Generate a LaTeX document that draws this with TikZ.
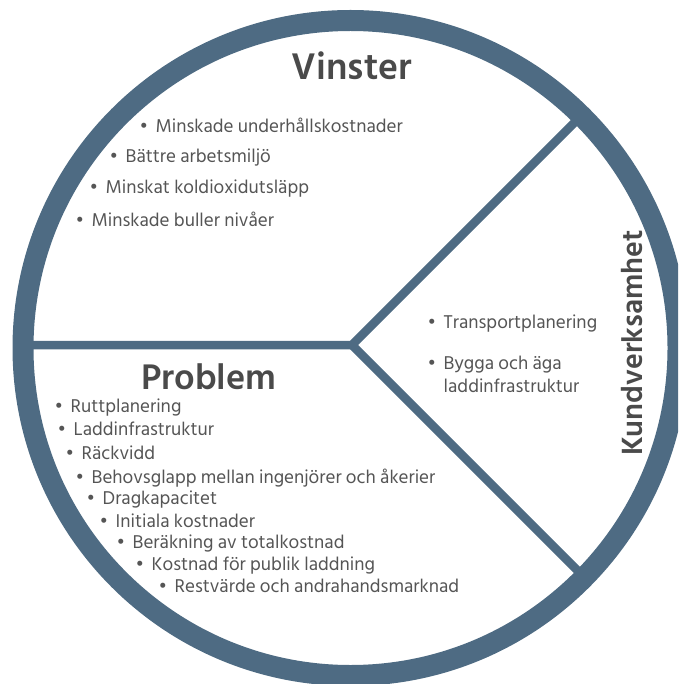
\documentclass[tikz,border=0pt]{standalone}
\usepackage{fontspec}
\setmainfont{Hind Siliguri}
\definecolor{ring}{HTML}{4E6B83}
\definecolor{txt}{HTML}{555555}
\definecolor{ttl}{HTML}{4A4A4A}
\tikzset{
  item/.style={anchor=mid west, inner sep=0pt, text=txt, font=\fontsize{19}{22}\selectfont},
  ttlnode/.style={inner sep=0pt, text=ttl, font=\fontsize{38}{40}\selectfont\bfseries},
  spoke/.style={draw=ring, line width=8.5pt},
  rim/.style={draw=ring, line width=21pt}
}
\newcommand{\bul}[1]{\makebox[12.5pt][l]{\hspace{-3.5pt}\textbullet}#1}
\begin{document}
\begin{tikzpicture}[x=1pt,y=-1pt]
\useasboundingbox (0,0) rectangle (678,684);
\begin{scope}
\clip (0,0) rectangle (678,684);
\coordinate (c) at (350.5,348);
\coordinate (j) at (352,345);
\coordinate (w) at (20,345);
\coordinate (ne) at (587,110);
\coordinate (se) at (587,580);
\draw[spoke] (w) -- (j) -- (ne);
\draw[spoke] (j) -- (se);
\draw[rim] (c) circle (327.5);
\end{scope}
\node[ttlnode] (vinster) at (352,66) {Vinster};
\node[ttlnode, font=\fontsize{36.5}{40}\selectfont\bfseries] (problem) at (209,376.5) {Problem};
\node[ttlnode, font=\fontsize{30}{32}\selectfont\bfseries, rotate=90] (kund) at (632,343) {Kundverksamhet};
\node[item] (v1) at (143,130) {\bul{Minskade underhållskostnader}};
\node[item] (v2) at (113,160) {\bul{Bättre arbetsmiljö}};
\node[item] (v3) at (93,191) {\bul{Minskat koldioxidutsläpp}};
\node[item] (v4) at (79,224) {\bul{Minskade buller nivåer}};
\node[item] (k1) at (431,326) {\bul{Transportplanering}};
\node[item] (k2) at (431,367) {\bul{Bygga och äga}};
\node[item] (k3) at (443.5,390) {laddinfrastruktur};
\node[item] (p1) at (58,410) {\bul{Ruttplanering}};
\node[item] (p2) at (61,433) {\bul{Laddinfrastruktur}};
\node[item] (p3) at (69,457) {\bul{Räckvidd}};
\node[item] (p4) at (79,481) {\bul{Behovsglapp mellan ingenjörer och åkerier}};
\node[item] (p5) at (90,502) {\bul{Dragkapacitet}};
\node[item] (p6) at (103,525) {\bul{Initiala kostnader}};
\node[item] (p7) at (120,546) {\bul{Beräkning av totalkostnad}};
\node[item] (p8) at (139,568) {\bul{Kostnad för publik laddning}};
\node[item] (p9) at (162,590) {\bul{Restvärde och andrahandsmarknad}};
\end{tikzpicture}
\end{document}
